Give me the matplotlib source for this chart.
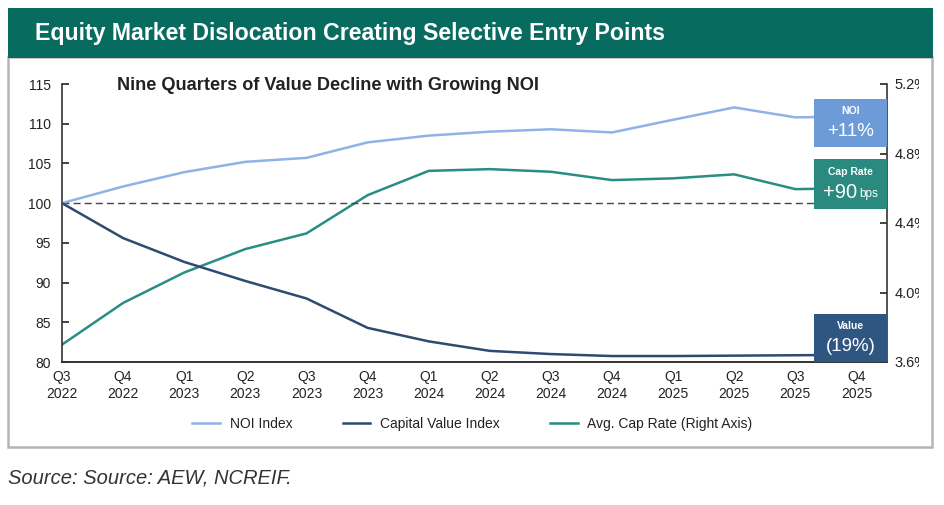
import numpy as np
import matplotlib
matplotlib.use("Agg")
import matplotlib.pyplot as plt
from matplotlib.patches import Rectangle
from matplotlib.transforms import Bbox, TransformedBbox

plt.rcParams["font.family"] = ["Liberation Sans", "DejaVu Sans"]

quarters = ["Q3\n2022", "Q4\n2022", "Q1\n2023", "Q2\n2023", "Q3\n2023", "Q4\n2023", "Q1\n2024",
            "Q2\n2024", "Q3\n2024", "Q4\n2024", "Q1\n2025", "Q2\n2025", "Q3\n2025", "Q4\n2025"]
noi_index = [100.0, 102.1, 103.9, 105.2, 105.7, 107.65, 108.5, 109.0, 109.3, 108.9, 110.5, 112.05, 110.8, 110.9]
value_index = [100.0, 95.6, 92.6, 90.2, 88.0, 84.3, 82.6, 81.4, 81.0, 80.75, 80.75, 80.8, 80.85, 80.9]
cap_rate = [3.70, 3.94, 4.115, 4.25, 4.34, 4.56, 4.70, 4.71, 4.695, 4.647, 4.657, 4.68, 4.595, 4.60]

left_ticks = [80, 85, 90, 95, 100, 105, 110, 115]
right_ticks = [3.6, 4.0, 4.4, 4.8, 5.2]

C_NOI = "#8fb3e6"
C_VAL = "#2d4b70"
C_CAP = "#2a8d85"
C_BANNER = "#086b60"
TXT = "#222222"

fig = plt.figure(figsize=(9.45, 5.05), dpi=100)
W, H = 945, 505

def fx(px):
    return px / W

def fy(py):
    return 1 - py / H

# white panel with grey outline, green header banner (behind the axes)
fig.patches.append(Rectangle((fx(8), fy(447)), fx(932) - fx(8), fy(57) - fy(447),
                             transform=fig.transFigure, facecolor="white",
                             edgecolor="#b5b5b5", linewidth=1.8, zorder=-2))
fig.patches.append(Rectangle((fx(8), fy(58)), fx(933) - fx(8), fy(8) - fy(58),
                             transform=fig.transFigure, facecolor=C_BANNER,
                             edgecolor="none", zorder=-1))
fig.text(fx(35), fy(33), "Equity Market Dislocation Creating Selective Entry Points",
         color="white", fontsize=16.7, fontweight="bold", va="center", ha="left")

ax = fig.add_axes([fx(62), fy(362), fx(887) - fx(62), fy(84) - fy(362)])
ax2 = ax.twinx()
ax2.set_zorder(1)
ax.set_zorder(2)
ax.patch.set_visible(False)
ax2.patch.set_visible(False)

x = np.arange(len(quarters))
ax.plot(x, noi_index, color=C_NOI, lw=1.8, label="NOI Index", zorder=3)
ax.plot(x, value_index, color=C_VAL, lw=1.8, label="Capital Value Index", zorder=3)
ax2.plot(x, cap_rate, color=C_CAP, lw=1.8)
ax.plot([], [], color=C_CAP, lw=1.8, label="Avg. Cap Rate (Right Axis)")
ax.axhline(100, color="#444444", lw=1.0, ls=(0, (5, 3)), zorder=2)

ax.set_xlim(0, 13.5)
ax.set_ylim(80, 115)
ax2.set_ylim(3.6, 5.2)
ax.set_xticks(x)
ax.set_xticklabels(quarters, fontsize=10, color=TXT, linespacing=1.25)
ax.tick_params(axis="x", length=0, pad=6)
ax.set_yticks(left_ticks)
ax.tick_params(axis="y", labelsize=10, colors=TXT, length=5, width=1.2, direction="in", pad=8)
ax2.set_yticks(right_ticks)
ax2.set_yticklabels([f"{v:.1f}%" for v in right_ticks])
ax2.tick_params(axis="y", labelsize=10.5, colors=TXT, length=5, width=1.2, direction="in", pad=5.5)

for a in (ax, ax2):
    a.spines["top"].set_visible(False)
    for s in ("left", "right", "bottom"):
        a.spines[s].set_color("#333333")
        a.spines[s].set_linewidth(1.2)
ax.spines["right"].set_visible(False)
ax2.spines["left"].set_visible(False)

# right axis labels are cut off by the chart edge in the original
clip = TransformedBbox(Bbox([[0, 0], [fx(919), 1]]), fig.transFigure)
for lab in ax2.get_yticklabels():
    lab.set_clip_box(clip)
    lab.set_clip_on(True)

# end-of-line callout boxes (drawn in left-axis units)
bx0, bx1 = 12.31, 13.5
xc = (bx0 + bx1) / 2
boxes = [
    (107.1, 113.1, "#6c9bd7", "NOI", "+11%", None),
    (99.3, 105.5, "#2b8a80", "Cap Rate", "+90", "bps"),
    (80.0, 86.1, "#2f5680", "Value", "(19%)", None),
]
for y0, y1, col, head, big, small in boxes:
    ax.add_patch(Rectangle((bx0, y0), bx1 - bx0, y1 - y0, facecolor=col,
                           edgecolor="none", zorder=5, clip_on=False))
    ax.text(xc, y0 + (y1 - y0) * 0.74, head, color="white", fontsize=7.5,
            fontweight="bold", ha="center", va="center", zorder=6)
    if small is None:
        ax.text(xc, y0 + (y1 - y0) * 0.33, big, color="white", fontsize=13.5,
                ha="center", va="center", zorder=6)
    else:
        ax.text(xc - 0.18, y0 + (y1 - y0) * 0.33, big, color="white", fontsize=14.5,
                ha="center", va="center", zorder=6)
        ax.text(xc + 0.14, y0 + (y1 - y0) * 0.29, small, color="white", fontsize=8.5,
                ha="left", va="center", zorder=6)

fig.text(fx(117), fy(85), "Nine Quarters of Value Decline with Growing NOI",
         fontsize=13.1, fontweight="bold", color=TXT, va="center", ha="left")

leg = ax.legend(loc="center", bbox_to_anchor=(0.5, fy(424)), bbox_transform=fig.transFigure,
                ncol=3, frameon=False, fontsize=10, handlelength=2.0, columnspacing=3.6,
                handletextpad=0.7)
for t in leg.get_texts():
    t.set_color(TXT)

fig.text(fx(8), fy(478), "Source: Source: AEW, NCREIF.", fontsize=14.5, style="italic",
         color="#333333", va="center", ha="left")

fig.savefig("out.png", dpi=100)
